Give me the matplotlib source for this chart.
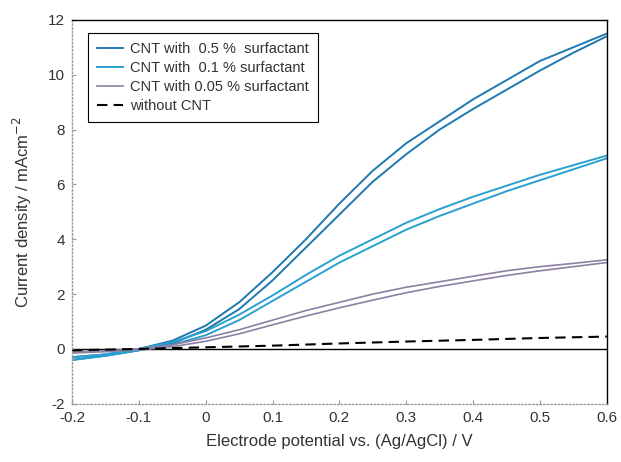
import numpy as np
import matplotlib.pyplot as plt

plt.rcParams['font.family'] = ['Liberation Sans', 'DejaVu Sans']
plt.rcParams['axes.unicode_minus'] = False

# potential grid (V vs Ag/AgCl)
potential = [-0.2, -0.15, -0.1, -0.05, 0.0, 0.05, 0.1, 0.15, 0.2, 0.25,
             0.3, 0.35, 0.4, 0.45, 0.5, 0.55, 0.6]

# CNT with 0.5 % surfactant (two scan branches)
cnt05_up = [-0.3, -0.2, 0.0, 0.3, 0.85, 1.7, 2.8, 4.0, 5.3, 6.5,
            7.5, 8.3, 9.1, 9.8, 10.5, 11.0, 11.5]
cnt05_dn = [-0.4, -0.25, -0.05, 0.2, 0.7, 1.45, 2.5, 3.7, 4.9, 6.1,
            7.1, 8.0, 8.75, 9.45, 10.15, 10.8, 11.4]

# CNT with 0.1 % surfactant
cnt01_up = [-0.3, -0.2, 0.0, 0.25, 0.65, 1.25, 1.95, 2.7, 3.4, 4.0,
            4.6, 5.1, 5.55, 5.95, 6.35, 6.7, 7.05]
cnt01_dn = [-0.4, -0.25, -0.05, 0.15, 0.5, 1.05, 1.75, 2.45, 3.15, 3.75,
            4.35, 4.85, 5.3, 5.75, 6.15, 6.55, 6.95]

# CNT with 0.05 % surfactant
cnt005_up = [-0.1, -0.07, 0.0, 0.15, 0.4, 0.7, 1.05, 1.4, 1.7, 2.0,
             2.25, 2.45, 2.65, 2.85, 3.0, 3.12, 3.25]
cnt005_dn = [-0.15, -0.1, -0.03, 0.08, 0.28, 0.55, 0.88, 1.2, 1.5, 1.78,
             2.05, 2.28, 2.48, 2.68, 2.85, 3.0, 3.15]

# without CNT
nocnt_x = [-0.2, -0.1, 0.0, 0.1, 0.2, 0.3, 0.4, 0.5, 0.6]
nocnt_y = [-0.05, 0.0, 0.06, 0.12, 0.2, 0.27, 0.33, 0.4, 0.45]

c05 = '#1f78b0'
c01 = '#2aa0d0'
c005 = '#8c80a4'

fig = plt.figure(figsize=(6.21, 4.62), dpi=100)
ax = fig.add_axes([0.116, 0.126, 0.861, 0.831])

ax.axhline(0, color='black', lw=1.0, zorder=1)
ax.plot(potential, cnt05_up, color=c05, lw=1.4, label='CNT with  0.5 %  surfactant')
ax.plot(potential, cnt05_dn, color=c05, lw=1.4)
ax.plot(potential, cnt01_up, color=c01, lw=1.4, label='CNT with  0.1 % surfactant')
ax.plot(potential, cnt01_dn, color=c01, lw=1.4)
ax.plot(potential, cnt005_up, color=c005, lw=1.2, label='CNT with 0.05 % surfactant')
ax.plot(potential, cnt005_dn, color=c005, lw=1.2)
ax.plot(nocnt_x, nocnt_y, color='black', lw=1.5, ls=(0, (5, 3)), label='without CNT')

ax.set_xlim(-0.2, 0.6)
ax.set_ylim(-2, 12)
ax.set_xticks([-0.2, -0.1, 0, 0.1, 0.2, 0.3, 0.4, 0.5, 0.6])
ax.set_xticklabels(['-0.2', '-0.1', '0', '0.1', '0.2', '0.3', '0.4', '0.5', '0.6'])
ax.set_yticks(range(-2, 13, 2))

for s in ['left', 'bottom']:
    ax.spines[s].set_color('#999999')
    ax.spines[s].set_linestyle(':')
    ax.spines[s].set_linewidth(1.0)
for s in ['top', 'right']:
    ax.spines[s].set_color('black')
    ax.spines[s].set_linewidth(1.0)

ax.tick_params(direction='in', length=3, color='#999999', labelsize=11,
               labelcolor='#333333', pad=5)

ax.set_xlabel('Electrode potential vs. (Ag/AgCl) / V', fontsize=12,
              color='#333333', labelpad=7)
ax.set_ylabel('Current density / mAcm$^{-2}$', fontsize=12,
              color='#333333', labelpad=10)

leg = ax.legend(loc='upper left', bbox_to_anchor=(0.03, 0.965), fontsize=10.5,
                fancybox=False, framealpha=1, edgecolor='black',
                handlelength=1.8, handletextpad=0.5, labelspacing=0.35,
                borderpad=0.6, borderaxespad=0)
leg.get_frame().set_linewidth(0.8)
for t in leg.get_texts():
    t.set_color('#333333')

fig.savefig('out.png', dpi=100)
